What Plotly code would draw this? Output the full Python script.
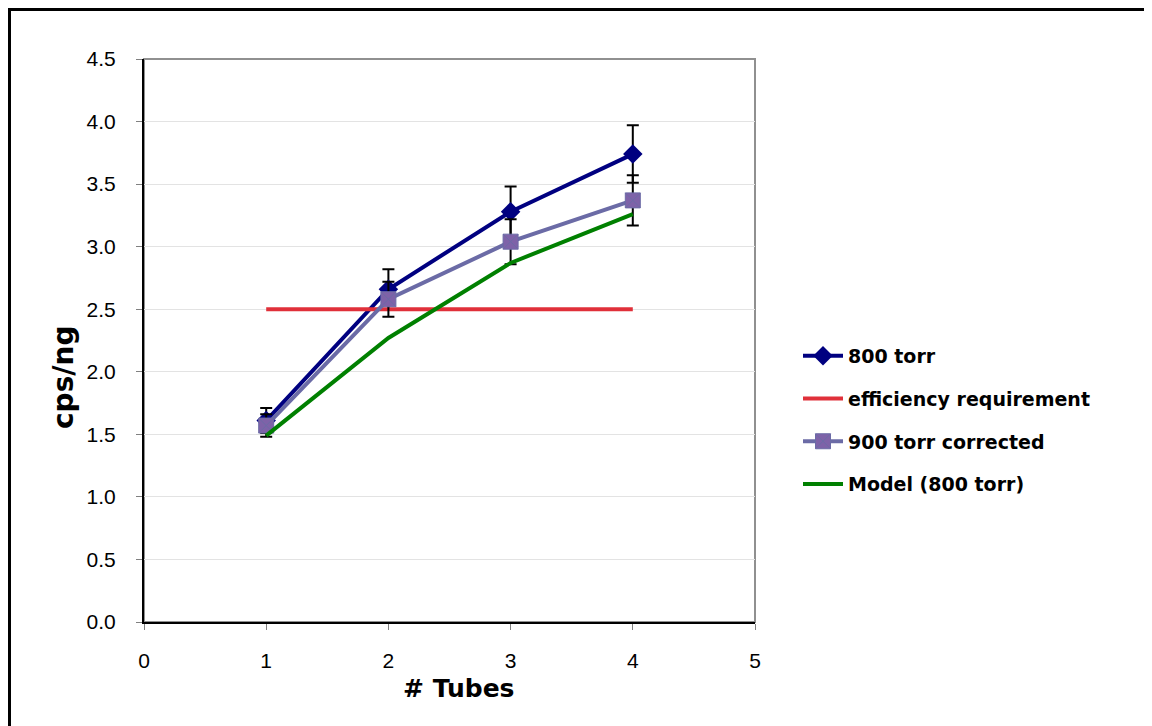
import plotly.graph_objects as go

tubes = [1, 2, 3, 4]
torr800 = [1.61, 2.66, 3.28, 3.74]
torr800_err = [0.10, 0.16, 0.20, 0.23]
torr900 = [1.57, 2.58, 3.04, 3.37]
torr900_err = [0.09, 0.14, 0.18, 0.20]
requirement_x = [1, 4]
requirement = [2.5, 2.5]
model = [1.49, 2.27, 2.87, 3.26]
x_ticks = [0, 1, 2, 3, 4, 5]
y_ticks = [0, 0.5, 1, 1.5, 2, 2.5, 3, 3.5, 4, 4.5]
y_tick_text = ["0.0", "0.5", "1.0", "1.5", "2.0", "2.5", "3.0", "3.5", "4.0", "4.5"]
x_title = "# Tubes"
y_title = "cps/ng"

L, T, W, H = 136, 51, 611, 563
FIG_W, FIG_H = 1152, 726

fig = go.Figure()

fig.add_trace(go.Scatter(
    x=tubes, y=torr800, name="800 torr", mode="lines+markers",
    line=dict(color="#000080", width=4),
    marker=dict(symbol="diamond", size=15, color="#000080"),
    error_y=dict(type="data", array=torr800_err, color="black", thickness=2, width=6),
    legendgroup="a",
))
fig.add_trace(go.Scatter(
    x=requirement_x, y=requirement, name="efficiency requirement", mode="lines",
    line=dict(color="#E0303A", width=4), legendgroup="b",
))
fig.add_trace(go.Scatter(
    x=tubes, y=torr900, name="900 torr corrected", mode="lines+markers",
    line=dict(color="#6B6BA6", width=4),
    marker=dict(symbol="square-x", size=15, color="#7E62A8", line=dict(color="#6B6BA6", width=1)),
    error_y=dict(type="data", array=torr900_err, color="black", thickness=2, width=6),
    legendgroup="c",
))
fig.add_trace(go.Scatter(
    x=tubes, y=model, name="Model (800 torr)", mode="lines",
    line=dict(color="#008000", width=4), legendgroup="d",
))

fig.update_layout(
    width=FIG_W, height=FIG_H,
    margin=dict(l=L, r=FIG_W - L - W, t=T, b=FIG_H - T - H),
    paper_bgcolor="white", plot_bgcolor="white",
    font=dict(family="Liberation Sans, Arial", size=20, color="black"),
    showlegend=True,
    legend=dict(x=(790 - L) / W, y=(T + H - 412) / H, xanchor="left", yanchor="middle",
                font=dict(size=19, family="DejaVu Sans", weight="bold"),
                traceorder="grouped", tracegroupgap=15, itemwidth=40,
                bgcolor="rgba(0,0,0,0)"),
    xaxis=dict(range=[0, 5], tickvals=x_ticks, showgrid=False, zeroline=False,
               showline=True, linecolor="black", linewidth=2,
               ticks="outside", ticklen=6, tickcolor="#808080",
               tickfont=dict(size=21), ticklabelstandoff=13, automargin=False),
    yaxis=dict(range=[0, 4.5], tickvals=y_ticks, ticktext=y_tick_text,
               showgrid=True, gridcolor="#E3E3E3", gridwidth=1, zeroline=False,
               showline=True, linecolor="black", linewidth=2,
               ticks="outside", ticklen=6, tickcolor="#808080",
               tickfont=dict(size=21), ticklabelstandoff=16, automargin=False),
    annotations=[
        dict(text="<b>" + x_title + "</b>", xref="paper", yref="paper",
             x=(451 - L) / W, y=(T + H - 680) / H, xanchor="center", yanchor="middle",
             showarrow=False, font=dict(size=25, family="DejaVu Sans")),
        dict(text="<b>" + y_title + "</b>", xref="paper", yref="paper",
             x=(55 - L) / W, y=(T + H - 369) / H, xanchor="center", yanchor="middle",
             textangle=-90, showarrow=False, font=dict(size=28, family="DejaVu Sans")),
    ],
    shapes=[
        dict(type="rect", xref="paper", yref="paper", x0=0, x1=1, y0=0, y1=1,
             line=dict(color="#909090", width=2), layer="below"),
        dict(type="rect", xref="paper", yref="paper",
             x0=(1.5 - L) / W, x1=(1300 - L) / W, y0=-0.4, y1=(T + H - 1.5) / H,
             line=dict(color="black", width=3)),
    ],
)

fig.write_html("out.html")
